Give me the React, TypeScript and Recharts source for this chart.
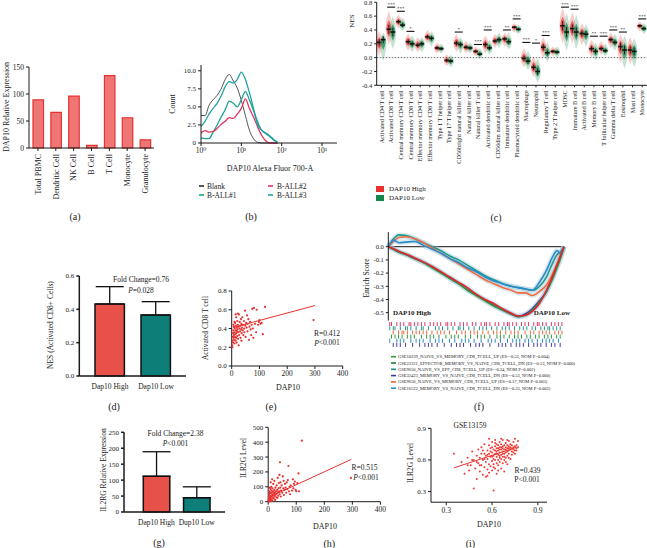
import React from 'react';
import {
  BarChart, Bar, XAxis, YAxis, LineChart, Line, ComposedChart, ScatterChart, Scatter,
  ReferenceLine, ErrorBar, Cell,
} from 'recharts';

const FONT = '"Liberation Serif", "DejaVu Serif", serif';
const INK = '#1a1a1a';

// ---------- (a) DAP10 expression by cell type
const cellTypes = ['Total PBMC', 'Dendritic Cell', 'NK Cell', 'B Cell', 'T Cell', 'Monocyte', 'Granulocyte'];
const dap10Expression = [89, 66, 96, 5, 134, 56, 15];

// ---------- (b) flow cytometry histogram
const flowIntensity = [1, 1.26, 1.58, 2, 2.51, 3.16, 3.98, 5.01, 6.31, 7.94, 10, 12.6, 15.8, 20, 25.1, 31.6, 39.8, 50.1, 63.1, 79.4];
const blankCount = [3.8, 3.8, 5.2, 6.0, 6.6, 7.5, 8.8, 9.5, 8.6, 7.6, 5.9, 3.8, 1.8, 0.6, 0.1, 0, 0, 0, 0, 0];
const ball1Count = [0.7, 0.6, 0.6, 1.5, 2.5, 3.6, 4.6, 5.8, 5.5, 5.0, 6.0, 7.1, 6.0, 4.5, 3.0, 1.8, 1.4, 1.0, 0.5, 0.1];
const ball2Count = [1.4, 1.7, 1.5, 1.6, 2.0, 2.6, 3.0, 3.5, 3.4, 4.0, 4.8, 6.1, 4.8, 3.6, 2.3, 1.1, 0.3, 0, 0, 0];
const ball3Count = [2.3, 3.0, 4.0, 4.8, 5.5, 6.5, 7.8, 8.5, 8.3, 8.8, 9.8, 8.8, 7.0, 4.8, 2.6, 1.8, 1.3, 0.9, 0.4, 0];
const flowTickLabels = ['10⁰', '10¹', '10²', '10³'];
const flowMax = 2350;

// ---------- (c) ssGSEA immune cell NES
const immuneCells = [
  'Activated CD4 T cell', 'Activated CD8 T cell', 'Central memory CD4 T cell', 'Central memory CD8 T cell',
  'Effector memory CD4 T cell', 'Effector memory CD8 T cell', 'Type 1 T helper cell', 'Type 17 T helper cell',
  'CD56bright natural killer cell', 'Natural killer cell', 'Natural killer T cell', 'Activated dendritic cell',
  'CD56dim natural killer cell', 'Immature dendritic cell', 'Plasmacytoid dendritic cell', 'Macrophage',
  'Neutrophil', 'Regulatory T cell', 'Type 2 T helper cell', 'MDSC', 'Immature B cell', 'Activated B cell',
  'Memory B cell', 'T follicular helper cell', 'Gamma delta T cell', 'Eosinophil', 'Mast cell', 'Monocyte',
];
const nesHighMedian = [0.22, 0.41, 0.52, 0.23, 0.18, 0.30, 0.14, -0.04, 0.21, 0.15, 0.09, 0.19, 0.24, 0.27, 0.44, -0.01, -0.14, 0.15, 0.09, 0.46, 0.42, 0.35, 0.13, 0.13, 0.26, 0.16, 0.11, 0.46];
const nesLowMedian = [0.26, 0.37, 0.47, 0.20, 0.20, 0.28, 0.13, -0.05, 0.19, 0.14, 0.05, 0.14, 0.26, 0.23, 0.41, -0.05, -0.20, 0.07, 0.08, 0.37, 0.37, 0.34, 0.09, 0.10, 0.22, 0.11, 0.09, 0.42];
const nesHighMax = [0.38, 0.68, 0.62, 0.35, 0.30, 0.40, 0.22, 0.05, 0.34, 0.24, 0.16, 0.32, 0.34, 0.36, 0.50, 0.14, 0.02, 0.30, 0.16, 0.72, 0.66, 0.50, 0.26, 0.24, 0.36, 0.34, 0.30, 0.52];
const nesHighMin = [0.02, 0.18, 0.42, 0.10, 0.08, 0.20, 0.06, -0.12, 0.08, 0.06, 0.02, 0.06, 0.14, 0.16, 0.36, -0.14, -0.28, 0.00, 0.02, 0.20, 0.20, 0.18, 0.00, 0.04, 0.14, -0.08, -0.10, 0.38];
const nesLowMax = [0.36, 0.60, 0.58, 0.32, 0.30, 0.38, 0.20, 0.04, 0.30, 0.22, 0.14, 0.26, 0.36, 0.36, 0.48, 0.10, 0.00, 0.22, 0.16, 0.65, 0.62, 0.48, 0.22, 0.20, 0.34, 0.32, 0.28, 0.50];
const nesLowMin = [-0.05, 0.12, 0.38, 0.08, 0.08, 0.16, 0.06, -0.14, 0.06, 0.06, -0.02, 0.04, 0.14, 0.12, 0.34, -0.18, -0.36, -0.06, 0.00, 0.10, 0.12, 0.16, -0.04, 0.02, 0.10, -0.16, -0.14, 0.34];
const sigHeight = [null, 0.73, 0.67, 0.38, null, null, null, null, 0.37, null, 0.19, 0.40, null, 0.40, 0.56, 0.22, 0.21, 0.32, null, 0.73, 0.70, null, 0.31, 0.31, 0.40, 0.37, null, 0.56];
const sigMark = ['', '***', '***', '*', '', '', '', '', '*', '', '***', '***', '', '**', '***', '***', '*', '***', '', '***', '***', '', '**', '***', '***', '**', '', '***'];
const nesTicks = [-0.4, -0.2, 0, 0.2, 0.4, 0.6, 0.8];

// ---------- (d) NES activated CD8
const groupsD = ['Dap10 High', 'Dap10 Low'];
const nesActCD8 = [0.432, 0.366];
const nesActCD8Err = [0.104, 0.08];

// ---------- (e) DAP10 vs activated CD8 T cell
const ePoints = [
  [2, 0.22], [3, 0.27], [4, 0.31], [5, 0.35], [5, 0.25], [6, 0.38], [7, 0.3], [8, 0.33], [8, 0.42], [9, 0.28],
  [10, 0.36], [10, 0.24], [11, 0.4], [12, 0.31], [12, 0.46], [13, 0.34], [14, 0.27], [15, 0.38], [15, 0.43], [16, 0.3],
  [17, 0.35], [18, 0.41], [18, 0.25], [19, 0.37], [20, 0.32], [20, 0.48], [21, 0.39], [22, 0.44], [23, 0.29], [24, 0.36],
  [25, 0.42], [26, 0.55], [27, 0.33], [28, 0.4], [29, 0.47], [30, 0.37], [31, 0.43], [32, 0.3], [33, 0.5], [34, 0.39],
  [35, 0.45], [36, 0.35], [37, 0.41], [38, 0.52], [40, 0.38], [41, 0.44], [42, 0.33], [44, 0.48], [45, 0.4], [46, 0.36],
  [48, 0.59], [49, 0.43], [50, 0.31], [52, 0.46], [54, 0.41], [55, 0.54], [57, 0.37], [58, 0.45], [60, 0.5], [62, 0.28],
  [64, 0.42], [66, 0.47], [68, 0.39], [70, 0.33], [72, 0.44], [74, 0.61], [76, 0.4], [78, 0.3], [80, 0.62], [84, 0.45],
  [88, 0.36], [90, 0.6], [95, 0.44], [98, 0.47], [100, 0.49], [104, 0.45], [108, 0.46], [112, 0.34], [120, 0.63], [295, 0.49],
  [14, 0.55], [16, 0.52], [10, 0.47], [6, 0.44], [3, 0.2], [25, 0.22], [35, 0.27], [22, 0.56],
];
const eFit = [[5, 0.41], [300, 0.645]];

// ---------- (f) GSEA running enrichment
const gseaRank = [0, 3, 6, 10, 15, 20, 25, 30, 35, 40, 45, 50, 55, 60, 65, 70, 74, 78, 82, 86, 90, 93, 96, 98, 100];
const gse10239 = [0, -0.02, -0.04, -0.06, -0.09, -0.12, -0.16, -0.2, -0.24, -0.28, -0.33, -0.37, -0.41, -0.45, -0.48, -0.51, -0.53, -0.52, -0.48, -0.42, -0.34, -0.26, -0.16, -0.09, 0];
const gse23321 = [0, -0.015, -0.035, -0.055, -0.085, -0.115, -0.15, -0.19, -0.23, -0.27, -0.31, -0.36, -0.4, -0.43, -0.47, -0.505, -0.525, -0.52, -0.49, -0.43, -0.33, -0.24, -0.14, -0.07, 0];
const gse9650eff = [0, 0.06, 0.09, 0.085, 0.06, 0.03, 0, -0.03, -0.07, -0.1, -0.14, -0.18, -0.22, -0.25, -0.28, -0.3, -0.31, -0.32, -0.33, -0.3, -0.23, -0.14, -0.06, -0.04, 0];
const gse32423 = [0, -0.02, -0.04, -0.06, -0.09, -0.12, -0.155, -0.195, -0.24, -0.28, -0.325, -0.365, -0.405, -0.445, -0.48, -0.51, -0.53, -0.51, -0.47, -0.41, -0.34, -0.25, -0.15, -0.08, 0];
const gse9650mem = [0, 0.04, 0.07, 0.075, 0.06, 0.03, -0.01, -0.05, -0.09, -0.13, -0.17, -0.21, -0.25, -0.28, -0.31, -0.33, -0.35, -0.35, -0.37, -0.34, -0.29, -0.22, -0.13, -0.06, 0];
const gse16522 = [0, 0.05, 0.03, 0.035, 0.04, 0.01, -0.02, -0.05, -0.09, -0.12, -0.16, -0.19, -0.23, -0.26, -0.28, -0.3, -0.31, -0.32, -0.33, -0.27, -0.18, -0.09, -0.03, -0.05, 0];
const gseaLegend = [
  'GSE10239_NAIVE_VS_MEMORY_CD8_TCELL_UP (ES=-0.53, NOM P=0.004)',
  'GSE23321_EFFECTOR_MEMORY_VS_NAIVE_CD8_TCELL_DN (ES=-0.53, NOM P=0.000)',
  'GSE9650_NAIVE_VS_EFF_CD8_TCELL_UP (ES=-0.34, NOM P=0.002)',
  'GSE32423_MEMORY_VS_NAIVE_CD8_TCELL_DN (ES=-0.53, NOM P=0.000)',
  'GSE9650_NAIVE_VS_MEMORY_CD8_TCELL_UP (ES=-0.37, NOM P=0.003)',
  'GSE16522_MEMORY_VS_NAIVE_CD8_TCELL_DN (ES=-0.33, NOM P=0.002)',
];
const hitRows = [
  [1, 2, 5, 7, 9, 12, 13, 15, 17, 19, 21, 24, 26, 28, 30, 33, 34, 36, 38, 41, 43, 45, 48, 50, 53, 55, 56, 58, 61, 63, 66, 68, 69, 71, 73, 76, 78, 80, 83, 85, 86, 88, 90, 93, 95, 97, 99],
  [1, 3, 4, 7, 10, 11, 13, 16, 19, 20, 23, 27, 29, 31, 34, 37, 40, 41, 43, 46, 49, 52, 54, 56, 59, 62, 65, 67, 69, 72, 75, 77, 79, 82, 84, 87, 89, 91, 92, 94, 96, 98],
  [3, 6, 8, 9, 11, 14, 16, 18, 20, 22, 25, 28, 30, 32, 35, 39, 42, 44, 47, 49, 51, 54, 57, 60, 62, 64, 67, 70, 72, 74, 78, 81, 83, 86, 88, 90, 92, 95, 97, 99],
  [2, 4, 6, 8, 11, 13, 15, 19, 22, 24, 26, 29, 33, 36, 38, 40, 44, 47, 51, 53, 55, 58, 62, 64, 66, 69, 72, 74, 76, 79, 81, 84, 86, 89, 91, 93, 96, 98],
  [1, 5, 7, 9, 13, 16, 18, 20, 24, 27, 29, 31, 35, 38, 42, 44, 46, 49, 53, 57, 59, 61, 64, 68, 71, 73, 75, 78, 80, 82, 85, 88, 90, 92, 94, 97],
  [3, 5, 7, 10, 14, 18, 21, 23, 25, 28, 32, 36, 39, 41, 43, 47, 50, 52, 54, 58, 63, 65, 67, 70, 73, 75, 77, 80, 83, 85, 87, 90, 93, 95, 98],
];

// ---------- (g) IL2RG expression
const groupsG = ['Dap10 High', 'Dup10 Low'];
const il2rgExpr = [112, 45];
const il2rgErr = [77, 34];

// ---------- (h) DAP10 vs IL2RG
const hPoints = [
  [1, 5], [2, 20], [3, 45], [3, 10], [4, 70], [5, 30], [5, 2], [6, 55], [7, 15], [8, 85], [8, 40], [9, 25], [10, 60], [10, 5],
  [11, 100], [12, 35], [12, 75], [13, 18], [14, 50], [15, 90], [15, 8], [16, 65], [17, 30], [18, 120], [18, 45], [19, 70],
  [20, 22], [21, 55], [22, 140], [22, 80], [23, 38], [24, 60], [25, 12], [26, 95], [27, 48], [28, 70], [29, 30], [30, 110],
  [31, 55], [32, 80], [33, 25], [34, 160], [35, 65], [36, 40], [37, 90], [38, 125], [39, 70], [40, 180], [41, 50], [42, 265],
  [43, 95], [44, 130], [45, 35], [46, 75], [48, 110], [50, 60], [52, 170], [54, 90], [55, 140], [56, 45], [58, 80], [60, 120],
  [62, 95], [64, 60], [66, 130], [68, 85], [70, 145], [72, 240], [74, 70], [76, 100], [78, 50], [80, 110], [85, 75], [88, 150],
  [90, 90], [92, 120], [95, 135], [98, 80], [100, 70], [104, 125], [108, 190], [110, 70], [120, 410], [295, 160], [6, 95],
  [9, 130], [14, 150], [3, 28], [7, 62],
];
const hFit = [[2, 29], [296, 284]];

// ---------- (i) GSE13159
const iPoints = [
  [0.35, 0.66], [0.4, 0.58], [0.42, 0.47], [0.44, 0.62], [0.45, 0.5], [0.46, 0.55], [0.47, 0.68], [0.48, 0.33], [0.48, 0.6],
  [0.49, 0.52], [0.5, 0.42], [0.5, 0.64], [0.51, 0.57], [0.51, 0.7], [0.52, 0.49], [0.52, 0.62], [0.53, 0.55], [0.53, 0.72],
  [0.54, 0.6], [0.54, 0.46], [0.55, 0.66], [0.55, 0.53], [0.55, 0.75], [0.56, 0.58], [0.56, 0.64], [0.56, 0.44], [0.57, 0.69],
  [0.57, 0.51], [0.57, 0.61], [0.58, 0.74], [0.58, 0.56], [0.58, 0.66], [0.58, 0.48], [0.59, 0.63], [0.59, 0.71], [0.59, 0.54],
  [0.6, 0.67], [0.6, 0.59], [0.6, 0.77], [0.6, 0.5], [0.61, 0.31], [0.61, 0.64], [0.61, 0.7], [0.61, 0.56], [0.61, 0.61],
  [0.62, 0.73], [0.62, 0.66], [0.62, 0.52], [0.62, 0.6], [0.62, 0.79], [0.63, 0.68], [0.63, 0.63], [0.63, 0.57], [0.63, 0.71],
  [0.63, 0.47], [0.64, 0.65], [0.64, 0.74], [0.64, 0.6], [0.64, 0.69], [0.64, 0.55], [0.65, 0.67], [0.65, 0.72], [0.65, 0.62],
  [0.65, 0.77], [0.65, 0.58], [0.66, 0.7], [0.66, 0.65], [0.66, 0.52], [0.66, 0.75], [0.66, 0.61], [0.67, 0.68], [0.67, 0.73],
  [0.67, 0.63], [0.67, 0.57], [0.67, 0.79], [0.68, 0.7], [0.68, 0.66], [0.68, 0.74], [0.68, 0.6], [0.68, 0.49], [0.69, 0.72],
  [0.69, 0.67], [0.69, 0.76], [0.69, 0.62], [0.7, 0.71], [0.7, 0.68], [0.7, 0.74], [0.7, 0.64], [0.7, 0.56], [0.71, 0.73],
  [0.71, 0.69], [0.71, 0.78], [0.71, 0.66], [0.72, 0.72], [0.72, 0.7], [0.72, 0.75], [0.72, 0.61], [0.73, 0.71], [0.73, 0.74],
  [0.73, 0.68], [0.74, 0.72], [0.74, 0.77], [0.74, 0.7], [0.75, 0.73], [0.75, 0.69], [0.75, 0.8], [0.76, 0.71], [0.76, 0.74],
  [0.77, 0.72], [0.77, 0.78], [0.6, 0.72], [0.62, 0.69], [0.64, 0.71], [0.66, 0.72], [0.68, 0.63], [0.63, 0.75], [0.65, 0.7],
  [0.67, 0.66], [0.69, 0.7], [0.71, 0.71], [0.59, 0.68], [0.57, 0.65], [0.55, 0.61], [0.53, 0.66], [0.7, 0.79], [0.66, 0.8],
  [0.62, 0.76], [0.58, 0.8], [0.54, 0.69], [0.5, 0.58], [0.47, 0.6], [0.44, 0.55], [0.73, 0.65], [0.75, 0.66], [0.69, 0.58],
  [0.61, 0.53], [0.57, 0.45], [0.52, 0.55], [0.64, 0.5], [0.71, 0.62], [0.74, 0.67], [0.76, 0.69], [0.63, 0.66], [0.65, 0.64],
  [0.67, 0.71], [0.6, 0.63],
];
const iFit = [[0.35, 0.525], [0.76, 0.72]];

// ================= helpers
const AX = { stroke: INK, strokeWidth: 1 };
const AX2 = { stroke: INK, strokeWidth: 1.5 };
const tk = (s: number) => ({ fontSize: s, fill: INK, fontFamily: FONT });
const Pos = ({ l, t, children }: any) => (
  <div style={{ position: 'absolute', left: l, top: t }}>{children}</div>
);

const RotTick = (p: any) => {
  const { x, y, payload, fs } = p;
  const bx = x + fs * 0.35;
  const by = y + 1;
  return (
    <text x={bx} y={by} transform={`rotate(-90 ${bx} ${by})`} textAnchor="end" fontSize={fs} fontFamily={FONT} fill={INK}>
      {payload.value}
    </text>
  );
};

const Dot = (color: string, r = 1.1) => (p: any) => (
  <circle cx={p.cx} cy={p.cy} r={r} fill={color} />
);

function makeViolin(which: 'hi' | 'lo') {
  return (props: any) => {
    const { x, y, width, height, payload } = props;
    if (x == null || y == null || !payload || isNaN(y)) return <g />;
    const top = payload[which + 'Max'];
    const bot = payload[which + 'Min'];
    const med = payload[which + 'Med'];
    const y0 = Math.min(y, y + height);
    const h = Math.abs(height);
    const yb = y0 + h;
    const ym = y0 + ((top - med) / (top - bot)) * h;
    const cx = x + width / 2;
    const w = 3.3;
    const color = which === 'hi' ? '#E5322D' : '#12884A';
    const outer = `M${cx},${y0} Q${cx + w * 2},${ym} ${cx},${yb} Q${cx - w * 2},${ym} ${cx},${y0} Z`;
    const c0 = ym - (ym - y0) * 0.5;
    const c1 = ym + (yb - ym) * 0.5;
    const inner = `M${cx},${c0} Q${cx + w * 1.5},${ym} ${cx},${c1} Q${cx - w * 1.5},${ym} ${cx},${c0} Z`;
    return (
      <g>
        <path d={outer} fill={color} fillOpacity={0.25} />
        <path d={inner} fill={color} fillOpacity={0.7} />
        <line x1={cx} x2={cx} y1={ym - h * 0.13} y2={ym + h * 0.13} stroke="#111" strokeWidth={0.9} />
        <rect x={cx - 2.3} y={ym - 0.8} width={4.6} height={1.6} fill="#111" />
      </g>
    );
  };
}

const SigMark = (p: any) => {
  const { cx, cy, payload, index } = p;
  if (!payload || !payload.sigText || cy == null || isNaN(cy)) return <g key={`s${index}`} />;
  return (
    <g key={`s${index}`}>
      <line x1={cx - 4} x2={cx + 4} y1={cy} y2={cy} stroke="#111" strokeWidth={1.1} />
      <text x={cx} y={cy - 1.3} fontSize={5} textAnchor="middle" fontFamily={FONT} fill="#111">{payload.sigText}</text>
    </g>
  );
};

const Txt = ({ x, y, s = 8, a = 'middle', r = false, b = false, children }: any) => (
  <text
    x={x} y={y} fontSize={s} textAnchor={a} dominantBaseline="central"
    fontWeight={b ? 'bold' : undefined}
    transform={r ? `rotate(-90 ${x} ${y})` : undefined}
    fill={INK} fontFamily={FONT}
  >
    {children}
  </text>
);

const PTxt = ({ x, y, rest }: any) => (
  <text x={x} y={y} fontSize={7.5} textAnchor="middle" dominantBaseline="central" fill={INK} fontFamily={FONT}>
    <tspan fontStyle="italic">P</tspan>{rest}
  </text>
);

// ================= data tables
const aData = cellTypes.map((cell, i) => ({ cell, v: dap10Expression[i] }));
const bData = flowIntensity.map((x, i) => ({ lx: Math.log10(x), blank: blankCount[i], b1: ball1Count[i], b2: ball2Count[i], b3: ball3Count[i] }));
const bTickPos = flowTickLabels.map((_, i) => i);
const cData = immuneCells.map((cell, i) => ({
  cell,
  hiRange: [nesHighMin[i], nesHighMax[i]],
  loRange: [nesLowMin[i], nesLowMax[i]],
  hiMin: nesHighMin[i], hiMax: nesHighMax[i], hiMed: nesHighMedian[i],
  loMin: nesLowMin[i], loMax: nesLowMax[i], loMed: nesLowMedian[i],
  sig: sigHeight[i], sigText: sigMark[i],
}));
const dData = groupsD.map((g, i) => ({ g, v: nesActCD8[i], err: [0, nesActCD8Err[i]] }));
const gData = groupsG.map((g, i) => ({ g, v: il2rgExpr[i], err: [0, il2rgErr[i]] }));
const toXY = (pts: number[][]) => pts.map(([x, y]) => ({ x, y }));
const fData = gseaRank.map((rank, i) => ({
  rank, s1: gse10239[i], s2: gse23321[i], s3: gse9650eff[i], s4: gse32423[i], s5: gse9650mem[i], s6: gse16522[i],
}));
const fLineColors = ['#2E9A3E', '#E3222A', '#1F9A8C', '#4A3C9C', '#F26A3E', '#2A8BCB'];
const fLegendColors = ['#2E9A3E', '#1F7A3A', '#1F8F7F', '#3A3A8F', '#F0603A', '#2A8AD0'];
const hitColors = ['#D8366A', '#23958A', '#EE6A3A', '#2E9A3E', '#2A8BCB', '#4A3C9C'];
const twoColors = ['#E8504A', '#0E7E78'];

export default function App() {
  return (
    <div style={{ position: 'absolute', left: 0, top: 0, width: 647, height: 548, background: '#fff', overflow: 'hidden', fontFamily: FONT }}>
      {/* (a) */}
      <Pos l={0} t={60}>
        <BarChart width={160} height={143} data={aData} margin={{ top: 7, right: 6, bottom: 0, left: 0 }} barSize={10.5}>
          <XAxis dataKey="cell" height={55} interval={0} axisLine={AX} tickLine={AX} tickSize={3} tick={(p: any) => <RotTick {...p} fs={8} />} />
          <YAxis width={29} domain={[0, 150]} ticks={[0, 50, 100, 150]} interval={0} axisLine={AX} tickLine={AX} tickSize={3} tick={tk(7.5)} />
          <Bar dataKey="v" fill="#F07676" stroke="#E3322F" strokeWidth={1.2} isAnimationActive={false} />
        </BarChart>
      </Pos>

      {/* (b) */}
      <Pos l={170} t={58}>
        <LineChart width={170} height={105} data={bData} margin={{ top: 7, right: 3, bottom: 0, left: 0 }}>
          <XAxis type="number" dataKey="lx" domain={[0, Math.log10(flowMax)]} ticks={bTickPos} interval={0} minTickGap={0} allowDataOverflow height={20}
            axisLine={AX} tickLine={AX} tickSize={3} tick={tk(7.5)} tickFormatter={(v: number) => flowTickLabels[Math.round(v)]} />
          <YAxis width={31} domain={[0, 10.8]} ticks={[0, 2.5, 5, 7.5, 10]} interval={0} axisLine={AX} tickLine={AX} tickSize={3}
            tick={tk(7)} tickFormatter={(v: number) => (v === 0 ? '0' : v.toFixed(1))} />
          <Line dataKey="blank" stroke="#2a2a2a" strokeWidth={0.8} dot={false} type="monotone" isAnimationActive={false} />
          <Line dataKey="b1" stroke="#1AA393" strokeWidth={1.3} dot={false} type="monotone" isAnimationActive={false} />
          <Line dataKey="b2" stroke="#E5335F" strokeWidth={1.3} dot={false} type="monotone" isAnimationActive={false} />
          <Line dataKey="b3" stroke="#22A2A8" strokeWidth={1.3} dot={false} type="monotone" isAnimationActive={false} />
        </LineChart>
      </Pos>

      {/* (c) */}
      <Pos l={350} t={0}>
        <ComposedChart width={297} height={170} data={cData} margin={{ top: 2.3, right: 0, bottom: 0, left: 0 }} barSize={5} barGap={-1} barCategoryGap={1}>
          <XAxis dataKey="cell" height={84.7} interval={0} axisLine={AX} tickLine={AX} tickSize={2} tick={(p: any) => <RotTick {...p} fs={6.2} />} />
          <YAxis width={26.7} domain={[-0.4, 0.8]} ticks={nesTicks} interval={0} axisLine={AX} tickLine={AX} tickSize={2.5}
            tick={tk(6.5)} tickFormatter={(v: number) => v.toFixed(1)} />
          <ReferenceLine y={0} stroke="#444" strokeWidth={0.8} strokeDasharray="1.5 1.5" />
          <Bar dataKey="hiRange" shape={makeViolin('hi')} isAnimationActive={false} />
          <Bar dataKey="loRange" shape={makeViolin('lo')} isAnimationActive={false} />
          <Line dataKey="sig" stroke="none" dot={SigMark} activeDot={false} isAnimationActive={false} connectNulls={false} />
        </ComposedChart>
      </Pos>

      {/* (d) */}
      <Pos l={40} t={270}>
        <BarChart width={150} height={128} data={dData} margin={{ top: 6, right: 4, bottom: 0, left: 0 }} barSize={29.4}>
          <XAxis dataKey="g" height={22} interval={0} padding={{ left: 7.7, right: 7 }} axisLine={AX2} tickLine={false} tick={tk(7.5)} />
          <YAxis width={39.3} domain={[0, 0.6]} ticks={[0, 0.2, 0.4, 0.6]} interval={0} axisLine={AX2} tickLine={AX2} tickSize={3}
            tick={tk(7)} tickFormatter={(v: number) => v.toFixed(1)} />
          <Bar dataKey="v" stroke="#111" strokeWidth={1.5} isAnimationActive={false}>
            {dData.map((d, i) => <Cell key={d.g} fill={twoColors[i]} />)}
            <ErrorBar dataKey="err" width={14} stroke="#111" strokeWidth={1.3} direction="y" />
          </Bar>
        </BarChart>
      </Pos>

      {/* (e) */}
      <Pos l={205} t={285}>
        <ScatterChart width={143.7} height={101} margin={{ top: 6, right: 6, bottom: 0, left: 0 }}>
          <XAxis type="number" dataKey="x" domain={[0, 400]} ticks={[0, 100, 200, 300, 400]} height={20} interval={0}
            axisLine={AX} tickLine={AX} tickSize={3} tick={tk(7.5)} />
          <YAxis type="number" dataKey="y" width={26.7} domain={[0, 0.8]} ticks={[0, 0.2, 0.4, 0.6, 0.8]} interval={0}
            axisLine={AX} tickLine={AX} tickSize={3} tick={tk(7)} tickFormatter={(v: number) => v.toFixed(1)} />
          <Scatter data={toXY(ePoints)} shape={Dot('#E8302E')} isAnimationActive={false} />
          <ReferenceLine segment={[{ x: eFit[0][0], y: eFit[0][1] }, { x: eFit[1][0], y: eFit[1][1] }]} stroke="#E8302E" strokeWidth={1} ifOverflow="visible" />
        </ScatterChart>
      </Pos>

      {/* (f) enrichment */}
      <Pos l={360} t={226}>
        <LineChart width={210} height={94.6} data={fData} margin={{ top: 6.2, right: 6, bottom: 0, left: 0 }}>
          <XAxis type="number" dataKey="rank" domain={[0, 100]} hide />
          <YAxis width={28.3} domain={[-0.56, 0.11]} ticks={[-0.5, -0.4, -0.3, -0.2, -0.1, 0]} allowDataOverflow interval={0}
            axisLine={AX} tickLine={AX} tickSize={2.5} tick={tk(6.5)} tickFormatter={(v: number) => v.toFixed(1)} />
          <ReferenceLine y={0} stroke="#111" strokeWidth={1} />
          {['s3', 's5', 's6', 's4', 's1', 's2'].map((k) => (
            <Line key={`h${k}`} dataKey={k} stroke="#9CC3D3" strokeOpacity={0.35} strokeWidth={5} dot={false} type="monotone" isAnimationActive={false} legendType="none" />
          ))}
          {['s3', 's5', 's6', 's4', 's1', 's2'].map((k) => {
            const idx = Number(k.slice(1)) - 1;
            return <Line key={k} dataKey={k} stroke={fLineColors[idx]} strokeWidth={1.6} dot={false} type="monotone" isAnimationActive={false} />;
          })}
        </LineChart>
      </Pos>

      {/* (f) hit ticks */}
      <Pos l={388.3} t={321.5}>
        <ScatterChart width={175.7} height={25} margin={{ top: 0, right: 0, bottom: 0, left: 0 }}>
          <XAxis type="number" dataKey="x" domain={[0, 100]} hide />
          <YAxis type="number" dataKey="y" domain={[0, 6]} reversed hide />
          {hitRows.map((row, ri) => (
            <Scatter key={ri} data={row.map((x) => ({ x, y: ri + 0.5 }))} isAnimationActive={false}
              shape={(p: any) => <rect x={p.cx - 0.5} y={p.cy - 2} width={1} height={4} fill={hitColors[ri]} />} />
          ))}
        </ScatterChart>
      </Pos>

      {/* (g) */}
      <Pos l={84} t={426}>
        <BarChart width={145} height={106} data={gData} margin={{ top: 6.3, right: 4, bottom: 0, left: 0 }} barSize={26.5}>
          <XAxis dataKey="g" height={20} interval={0} padding={{ left: 12.3, right: 8.2 }} axisLine={AX2} tickLine={false} tick={tk(7.5)} />
          <YAxis width={40} domain={[0, 250]} ticks={[0, 50, 100, 150, 200, 250]} interval={0} axisLine={AX2} tickLine={AX2} tickSize={3} tick={tk(7)} />
          <Bar dataKey="v" stroke="#111" strokeWidth={1.5} isAnimationActive={false}>
            {gData.map((d, i) => <Cell key={d.g} fill={twoColors[i]} />)}
            <ErrorBar dataKey="err" width={14} stroke="#111" strokeWidth={1.3} direction="y" />
          </Bar>
        </BarChart>
      </Pos>

      {/* (h) */}
      <Pos l={243} t={421}>
        <ScatterChart width={143.4} height={100.7} margin={{ top: 6.3, right: 6, bottom: 0, left: 0 }}>
          <XAxis type="number" dataKey="x" domain={[0, 400]} ticks={[0, 100, 200, 300, 400]} height={20} interval={0}
            axisLine={AX} tickLine={AX} tickSize={3} tick={tk(7.5)} />
          <YAxis type="number" dataKey="y" width={25.2} domain={[0, 500]} ticks={[0, 100, 200, 300, 400, 500]} interval={0}
            axisLine={AX} tickLine={AX} tickSize={3} tick={tk(7)} />
          <Scatter data={toXY(hPoints)} shape={Dot('#E8302E')} isAnimationActive={false} />
          <ReferenceLine segment={[{ x: hFit[0][0], y: hFit[0][1] }, { x: hFit[1][0], y: hFit[1][1] }]} stroke="#E8302E" strokeWidth={1} ifOverflow="visible" />
        </ScatterChart>
      </Pos>

      {/* (i) */}
      <Pos l={409} t={420}>
        <ScatterChart width={144} height={102.2} margin={{ top: 8.3, right: 6, bottom: 0, left: 0 }}>
          <XAxis type="number" dataKey="x" domain={[0.2, 0.96]} ticks={[0.3, 0.6, 0.9]} height={20} allowDataOverflow interval={0}
            axisLine={AX} tickLine={AX} tickSize={3} tick={tk(7.5)} tickFormatter={(v: number) => v.toFixed(1)} />
          <YAxis type="number" dataKey="y" width={22} domain={[0.2, 0.9]} ticks={[0.3, 0.6, 0.9]} allowDataOverflow interval={0}
            axisLine={AX} tickLine={AX} tickSize={3} tick={tk(7)} tickFormatter={(v: number) => v.toFixed(1)} />
          <Scatter data={toXY(iPoints)} shape={Dot('#EE3A36', 1)} isAnimationActive={false} />
          <ReferenceLine segment={[{ x: iFit[0][0], y: iFit[0][1] }, { x: iFit[1][0], y: iFit[1][1] }]} stroke="#E8302E" strokeWidth={1} ifOverflow="visible" />
        </ScatterChart>
      </Pos>

      {/* text overlay */}
      <svg width={647} height={548} style={{ position: 'absolute', left: 0, top: 0, pointerEvents: 'none' }}>
        {/* (a) */}
        <Txt x={6} y={107} s={8} r>DAP10 Relative Expression</Txt>
        <Txt x={75} y={216} s={10}>(a)</Txt>
        {/* (b) */}
        <Txt x={172} y={104} s={8} r>Count</Txt>
        <Txt x={270} y={168} s={8}>DAP10 Alexa Fluor 700-A</Txt>
        <line x1={199} x2={204} y1={186} y2={186} stroke="#2a2a2a" strokeWidth={1.6} />
        <Txt x={207} y={186} s={7.5} a="start">Blank</Txt>
        <line x1={199} x2={204} y1={195} y2={195} stroke="#1AA393" strokeWidth={1.6} />
        <Txt x={207} y={195} s={7.5} a="start">B-ALL#1</Txt>
        <line x1={268} x2={273} y1={186} y2={186} stroke="#E5335F" strokeWidth={1.6} />
        <Txt x={277} y={186} s={7.5} a="start">B-ALL#2</Txt>
        <line x1={268} x2={273} y1={195} y2={195} stroke="#22A2A8" strokeWidth={1.6} />
        <Txt x={277} y={195} s={7.5} a="start">B-ALL#3</Txt>
        <Txt x={251} y={216} s={10}>(b)</Txt>
        {/* (c) */}
        <Txt x={352} y={21} s={7} r>NES</Txt>
        <rect x={376} y={186} width={8} height={6} fill="#E5322D" />
        <Txt x={389} y={189} s={7} a="start">DAP10 High</Txt>
        <rect x={376} y={195} width={8} height={6} fill="#12884A" />
        <Txt x={389} y={198} s={7} a="start">DAP10 Low</Txt>
        <Txt x={496} y={217} s={10}>(c)</Txt>
        {/* (d) */}
        <Txt x={50} y={325} s={7.5} r>NES (Activated CD8+ Cells)</Txt>
        <Txt x={141} y={279} s={7.5}>Fold Change=0.76</Txt>
        <PTxt x={141} y={290} rest="=0.028" />
        <Txt x={114} y={406} s={10}>(d)</Txt>
        {/* (e) */}
        <Txt x={205} y={328} s={7.5} r>Activated CD8 T cell</Txt>
        <Txt x={288} y={387} s={8}>DAP10</Txt>
        <Txt x={327} y={333} s={7.5}>R=0.412</Txt>
        <PTxt x={327} y={342.5} rest="<0.001" />
        <Txt x={271} y={406} s={10}>(e)</Txt>
        {/* (f) */}
        <Txt x={366} y={278} s={7.5} r>Enrich Score</Txt>
        <Txt x={393} y={312.5} s={7} a="start" b>DAP10 High</Txt>
        <Txt x={570} y={312.5} s={7} a="end" b>DAP10 Low</Txt>
        {gseaLegend.map((t, i) => (
          <g key={t}>
            <line x1={391} x2={396} y1={356.7 + i * 6.3} y2={356.7 + i * 6.3} stroke={fLegendColors[i]} strokeWidth={1.6} />
            <Txt x={398} y={356.7 + i * 6.3} s={4.5} a="start">{t}</Txt>
          </g>
        ))}
        <Txt x={479} y={406} s={10}>(f)</Txt>
        {/* (g) */}
        <Txt x={103} y={470} s={7.5} r>IL2RG Relative Expression</Txt>
        <Txt x={175.5} y={433.3} s={7.5}>Fold Change=2.38</Txt>
        <PTxt x={175.5} y={443} rest="<0.001" />
        <Txt x={159} y={542.7} s={10}>(g)</Txt>
        {/* (h) */}
        <Txt x={243.5} y={458} s={7.5} r>ILR2G Level</Txt>
        <Txt x={325} y={526} s={8}>DAP10</Txt>
        <Txt x={364.5} y={467.7} s={7.5}>R=0.515</Txt>
        <PTxt x={366} y={477.3} rest="<0.001" />
        <Txt x={329.3} y={543.3} s={10}>(h)</Txt>
        {/* (i) */}
        <Txt x={410.6} y={463} s={7.5} r>ILR2G Level</Txt>
        <Txt x={470} y={425} s={7.5}>GSE13159</Txt>
        <Txt x={527.5} y={470.7} s={7.5}>R=0.439</Txt>
        <Txt x={527} y={479.3} s={7.5}>P&lt;0.001</Txt>
        <Txt x={489} y={524} s={8}>DAP10</Txt>
        <Txt x={470.4} y={543.5} s={10}>(i)</Txt>
      </svg>
    </div>
  );
}
